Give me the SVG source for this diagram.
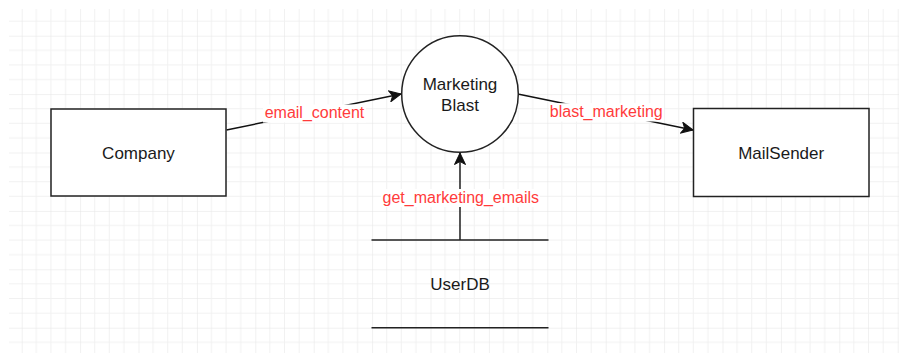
<svg xmlns="http://www.w3.org/2000/svg" width="906" height="353" viewBox="0 0 906 353">
  <style>
    .node { fill: #ffffff; stroke: #222222; stroke-width: 1.5; }
    .store { fill: none; stroke: #222222; stroke-width: 1.5; }
    .name { font-family: "Liberation Sans", Arial, sans-serif; font-size: 17px; fill: #1a1a1a; text-anchor: middle; }
    .flow { fill: none; stroke: #111111; stroke-width: 1.4; marker-end: url(#arrow); }
    .flow-bg { fill: #ffffff; }
    .flow-label { font-family: "Liberation Sans", Arial, sans-serif; font-size: 16px; fill: #ff3b3b; text-anchor: middle; }
  </style>
  <defs>
    <!-- background grid: minor every 14.6, major every 58.4 -->
    <pattern id="grid" patternUnits="userSpaceOnUse" x="21.7" y="35.7" width="58.4" height="58.4">
      <path d="M14.6,0 V58.4 M29.2,0 V58.4 M43.8,0 V58.4 M0,14.6 H58.4 M0,29.2 H58.4 M0,43.8 H58.4" stroke="#f1f1f1" stroke-width="1" fill="none"/>
      <path d="M0,0 V58.4 M0,0 H58.4" stroke="#e3e3e3" stroke-width="1" fill="none"/>
    </pattern>
    <marker id="arrow" markerUnits="userSpaceOnUse" orient="auto" viewBox="-12 -6 13 12" markerWidth="13" markerHeight="12" refX="0" refY="0">
      <path d="M0,0 L-11.5,-5.5 L-8.5,0 L-11.5,5.5 Z" fill="#111111" stroke="#111111" stroke-width="1" stroke-linejoin="miter"/>
    </marker>
  </defs>

  <rect x="0" y="0" width="906" height="353" fill="#ffffff"/>
  <rect x="9" y="9" width="890" height="344" fill="url(#grid)"/>

  <!-- data flows -->
  <g id="connectors">
    <g id="flow-email-content">
      <path class="flow" d="M226.5,130 L401,94"/>
      <rect class="flow-bg" x="263" y="104.5" width="103" height="18"/>
      <text class="flow-label" x="314.5" y="118.3">email_content</text>
    </g>
    <g id="flow-blast-marketing">
      <path class="flow" d="M519,94.3 L693,130"/>
      <rect class="flow-bg" x="549" y="103.2" width="115" height="18.3"/>
      <text class="flow-label" x="606.3" y="117.3">blast_marketing</text>
    </g>
    <g id="flow-get-marketing-emails">
      <path class="flow" d="M460,240 L460,153"/>
      <rect class="flow-bg" x="381" y="189" width="159" height="18"/>
      <text class="flow-label" x="460.8" y="202.6">get_marketing_emails</text>
    </g>
  </g>

  <g id="company">
    <rect class="node" x="51" y="109" width="175" height="87"/>
    <text class="name" x="138.5" y="159">Company</text>
  </g>

  <g id="marketing-blast">
    <circle class="node" cx="460" cy="94" r="58.3"/>
    <text class="name" x="460" y="89.8">Marketing</text>
    <text class="name" x="460" y="110.8">Blast</text>
  </g>

  <g id="mailsender">
    <rect class="node" x="693.5" y="108.5" width="175.5" height="88"/>
    <text class="name" x="781.2" y="159">MailSender</text>
  </g>

  <g id="userdb">
    <path class="store" d="M371.5,240 H548.5 M371.5,327.7 H548.5"/>
    <text class="name" x="460" y="289.8">UserDB</text>
  </g>
</svg>
